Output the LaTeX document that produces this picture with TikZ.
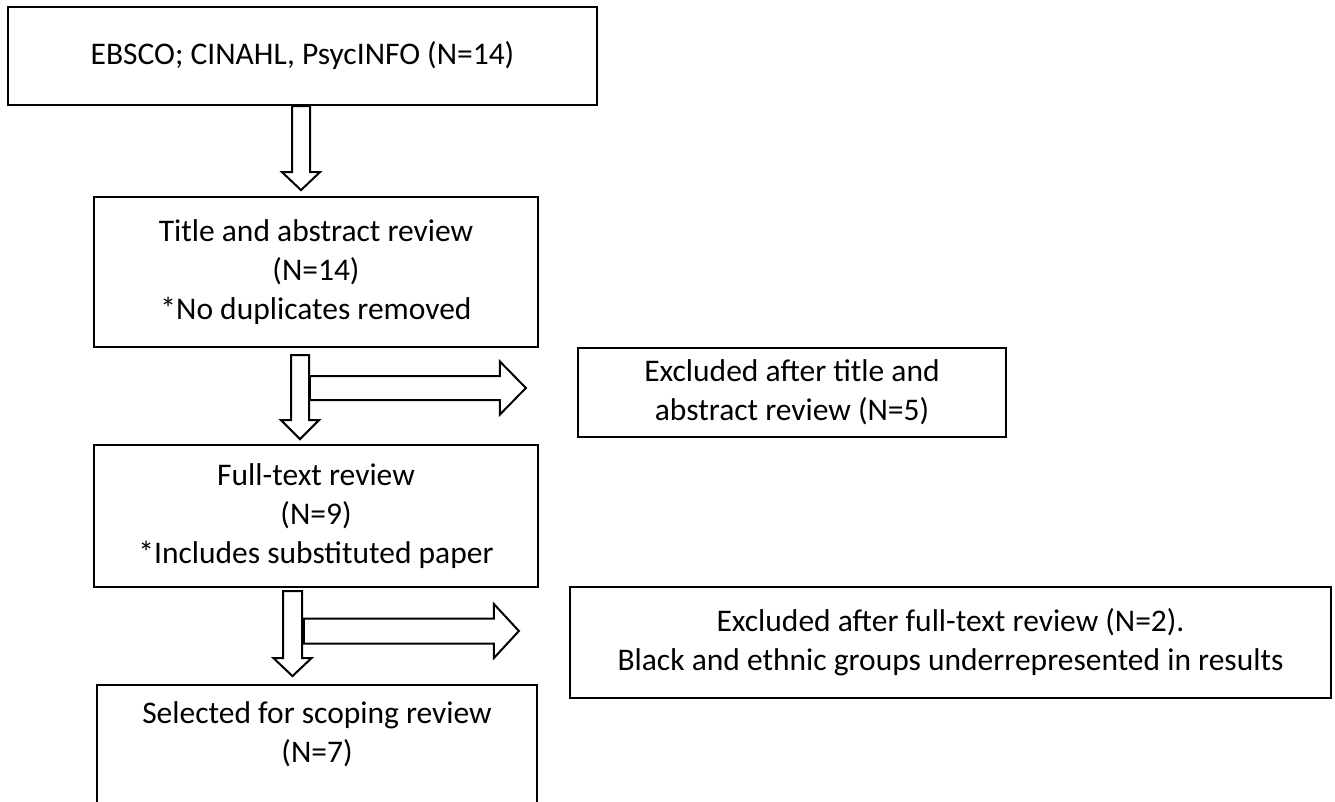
\documentclass[tikz,border=0pt]{standalone}
\usepackage{fontspec}
\setmainfont{Carlito}
\usetikzlibrary{calc}
\tikzset{
  pics/downblock/.style args={#1/#2/#3/#4}{code={
    \draw[arrowline] (-#2,0) -- (#2,0) -- (#2,#1-#4) -- (#3,#1-#4) -- (0,#1)
      -- (-#3,#1-#4) -- (-#2,#1-#4) -- cycle;
  }},
  pics/rightblock/.style args={#1/#2/#3/#4}{code={
    \draw[arrowline] (0,-#2) -- (#1-#4,-#2) -- (#1-#4,-#3) -- (#1,0)
      -- (#1-#4,#3) -- (#1-#4,#2) -- (0,#2) -- cycle;
  }},
}
\begin{document}
\begin{tikzpicture}[x=1pt,y=-1pt,
  box/.style={draw=black, line width=2.2pt, fill=white, inner sep=0pt,
    align=center, font=\fontsize{31.5}{39}\selectfont},
  txt/.style={inner sep=0pt, align=center, font=\fontsize{31.5}{39}\selectfont},
  arrowline/.style={draw=black, line width=2pt, fill=white, line join=miter}]
\clip (0,0) rectangle (1335,801);
\fill[white] (0,0) rectangle (1335,801);

% flow boxes
\node[box, minimum width=589pt, minimum height=98pt] (src) at (302.5,56)
  {EBSCO; CINAHL, PsycINFO (N=14)};
\node[box, minimum width=444pt, minimum height=150pt] (tiab) at (316,272)
  {Title and abstract review\\(N=14)\\*No duplicates removed};
\node[box, minimum width=444pt, minimum height=142pt] (full) at (316,516)
  {Full-text review\\(N=9)\\*Includes substituted paper};
\node[box, minimum width=440pt, minimum height=180pt, anchor=north] (sel) at (317,684) {};
\node[txt, anchor=north] (seltxt) at (317,701)
  {Selected for scoping review\\(N=7)};

% exclusion boxes
\node[box, minimum width=428pt, minimum height=89pt] (exA) at (792,392.5)
  {Excluded after title and\\abstract review (N=5)};
\node[box, minimum width=761pt, minimum height=111pt] (exB) at (950.5,642.5)
  {Excluded after full-text review (N=2).\\Black and ethnic groups underrepresented in results};

% block arrow anchors
\coordinate (d1) at ($(src.south)+(-1.5,0)$);
\coordinate (d2) at ($(tiab.south)+(-16,7)$);
\coordinate (d3) at ($(full.south)+(-23.5,3)$);
\coordinate (r1) at ($(exA.west)+(-267,-4.5)$);
\coordinate (r2) at ($(exB.west)+(-265,-11.5)$);

% block arrows
\pic at (d1) {downblock=84/9/19/18};
\pic at (d2) {downblock=84/9/19/19};
\pic at (d3) {downblock=85/9.5/19/18};
\pic at (r1) {rightblock=216/12/26.5/26};
\pic at (r2) {rightblock=215/12.5/27/25};
\end{tikzpicture}
\end{document}
